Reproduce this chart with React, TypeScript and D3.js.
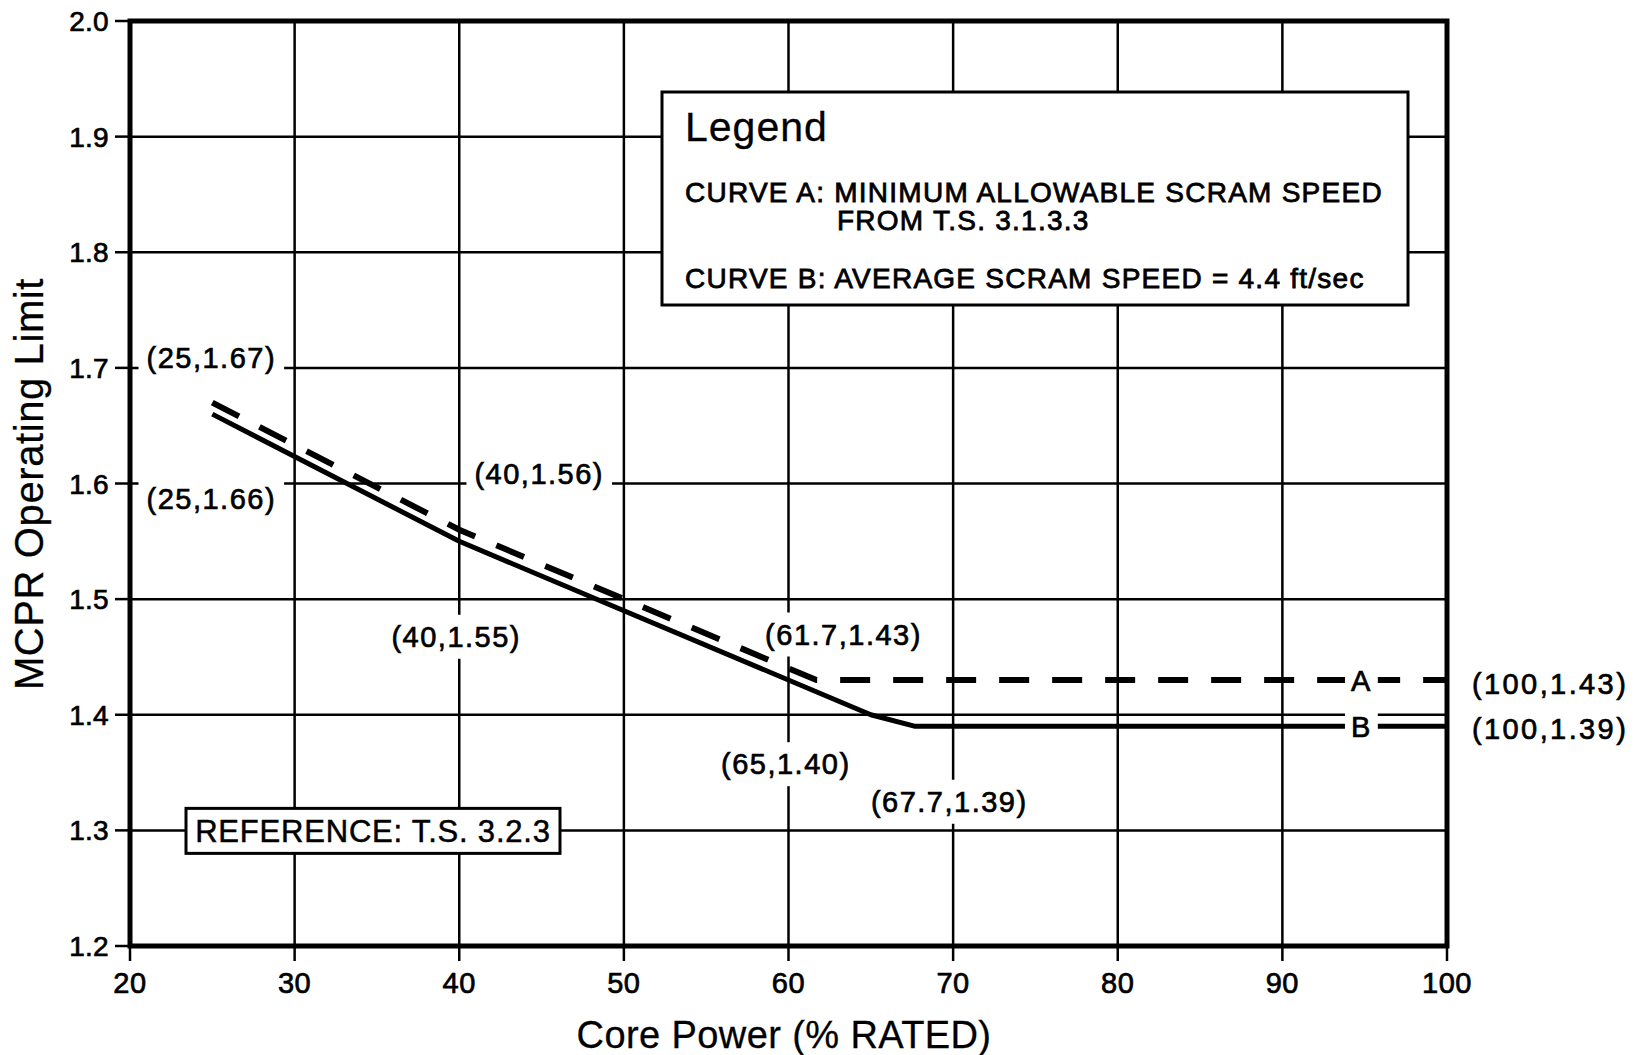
import { useEffect, useRef } from "react";
import * as d3 from "d3";

const W = 1635;
const H = 1055;
const FONT = "'Liberation Sans', Arial, Helvetica, sans-serif";

// axis ticks
const X_TICKS = [20, 30, 40, 50, 60, 70, 80, 90, 100];
const Y_TICKS = [1.2, 1.3, 1.4, 1.5, 1.6, 1.7, 1.8, 1.9, 2.0];

// curve A: minimum allowable scram speed (dashed)
const CURVE_A_X = [25, 40, 61.7, 100];
const CURVE_A_Y = [1.67, 1.56, 1.43, 1.43];
// curve B: average scram speed (solid)
const CURVE_B_X = [25, 40, 65, 67.7, 100];
const CURVE_B_Y = [1.66, 1.55, 1.40, 1.39, 1.39];

const POINT_LABELS = ["(25,1.67)", "(25,1.66)", "(40,1.56)", "(40,1.55)", "(61.7,1.43)", "(65,1.40)", "(67.7,1.39)", "(100,1.43)", "(100,1.39)"];
const LABEL_X = [25, 25, 40, 40, 61.7, 65, 67.7, 100, 100];
const LABEL_Y = [1.67, 1.66, 1.56, 1.55, 1.43, 1.40, 1.39, 1.43, 1.39];

const LEGEND_LINES = [
  "CURVE A: MINIMUM ALLOWABLE SCRAM SPEED",
  "FROM T.S. 3.1.3.3",
  "CURVE B: AVERAGE SCRAM SPEED = 4.4 ft/sec",
];

// pixel offsets of each point label from its point (layout only)
const LABEL_OFFSETS: [number, number, string][] = [
  [-1, -45, "middle"],
  [-1, 84, "middle"],
  [80, -56, "middle"],
  [-3, 95, "middle"],
  [27, -46, "middle"],
  [-85, 49, "middle"],
  [34, 75, "middle"],
  [25, 3, "start"],
  [25, 2, "start"],
];

export default function App() {
  const svgRef = useRef<SVGSVGElement>(null);

  useEffect(() => {
    if (!svgRef.current) return;
    const svg = d3.select(svgRef.current);
    svg.selectAll("*").remove();

    const margin = { top: 21, right: 188, bottom: 109, left: 130 };
    const x = d3.scaleLinear().domain([20, 100]).range([margin.left, W - margin.right]);
    const y = d3.scaleLinear().domain([1.2, 2.0]).range([H - margin.bottom, margin.top]);
    const x0 = x(20), x1 = x(100), y0 = y(1.2), y1 = y(2.0);

    svg.append("rect").attr("width", W).attr("height", H).attr("fill", "#fff");

    // grid
    const grid = svg.append("g").attr("stroke", "#000").attr("stroke-width", 2.5);
    X_TICKS.slice(1, -1).forEach(t => {
      grid.append("line").attr("x1", x(t)).attr("x2", x(t)).attr("y1", y1).attr("y2", y0);
    });
    Y_TICKS.slice(1, -1).forEach(t => {
      grid.append("line").attr("x1", x0).attr("x2", x1).attr("y1", y(t)).attr("y2", y(t));
    });

    // outside ticks
    Y_TICKS.forEach(t => {
      grid.append("line").attr("x1", x0 - 15).attr("x2", x0).attr("y1", y(t)).attr("y2", y(t));
    });
    X_TICKS.forEach(t => {
      grid.append("line").attr("x1", x(t)).attr("x2", x(t)).attr("y1", y0).attr("y2", y0 + 15);
    });

    // heavy = faux-bold stroke to mimic the scanned print weight
    const txt = (g: d3.Selection<any, unknown, null, undefined>, s: string, size: number, ls = 1.5, heavy = 0.7) =>
      g.append("text")
        .attr("font-family", FONT)
        .attr("font-size", size)
        .attr("letter-spacing", ls)
        .attr("fill", "#000")
        .attr("stroke", heavy > 0 ? "#000" : "none")
        .attr("stroke-width", heavy)
        .text(s);

    // tick labels
    Y_TICKS.forEach(t => {
      txt(svg as any, t.toFixed(1), 28, 0.3)
        .attr("x", x0 - 21).attr("y", y(t)).attr("dy", "0.36em").attr("text-anchor", "end");
    });
    X_TICKS.forEach(t => {
      txt(svg as any, String(t), 29, 0.5)
        .attr("x", x(t)).attr("y", y0 + 47).attr("text-anchor", "middle");
    });

    // axis titles
    txt(svg as any, "Core Power (% RATED)", 38, 0.4, 0.3)
      .attr("x", 784).attr("y", 1048).attr("text-anchor", "middle");
    txt(svg as any, "MCPR Operating Limit", 40, 0.6, 0.3)
      .attr("text-anchor", "middle")
      .attr("transform", `translate(43,${484}) rotate(-90)`);

    // label with white knockout behind
    const knockLabel = (s: string, px: number, py: number, anchor: string, size: number, pad: number, padY: number, ls = 1.5) => {
      const g = svg.append("g");
      const bg = g.append("rect").attr("fill", "#fff");
      const t = txt(g as any, s, size, ls)
        .attr("x", px).attr("y", py).attr("dy", "0.36em").attr("text-anchor", anchor);
      const bb = (t.node() as SVGTextElement).getBBox();
      bg.attr("x", bb.x - pad).attr("y", bb.y - padY).attr("width", bb.width + pad * 2).attr("height", bb.height + padY * 2);
    };

    POINT_LABELS.forEach((s, i) => {
      const [dx, dy, anchor] = LABEL_OFFSETS[i];
      knockLabel(s, x(LABEL_X[i]) + dx, y(LABEL_Y[i]) + dy, anchor, 29, 8, 6, anchor === "start" ? 2.4 : 1.5);
    });

    // curves
    const line = d3.line<number>().x(d => x(d)).curve(d3.curveLinear);
    svg.append("path")
      .attr("d", line.y((_, i) => y(CURVE_A_Y[i]))(CURVE_A_X) ?? "")
      .attr("fill", "none").attr("stroke", "#000").attr("stroke-width", 6)
      .attr("stroke-dasharray", "30,23");
    svg.append("path")
      .attr("d", line.y((_, i) => y(CURVE_B_Y[i]))(CURVE_B_X) ?? "")
      .attr("fill", "none").attr("stroke", "#000").attr("stroke-width", 5)
      .attr("stroke-linejoin", "round");

    // curve letters
    knockLabel("A", x(94.8), y(CURVE_A_Y[3]), "middle", 29, 6, -2);
    knockLabel("B", x(94.8), y(CURVE_B_Y[4]), "middle", 29, 6, -2);

    // frame
    svg.append("rect")
      .attr("x", x0).attr("y", y1).attr("width", x1 - x0).attr("height", y0 - y1)
      .attr("fill", "none").attr("stroke", "#000").attr("stroke-width", 5);

    // legend box
    const lg = svg.append("g");
    lg.append("rect").attr("x", 662).attr("y", 92).attr("width", 746).attr("height", 213)
      .attr("fill", "#fff").attr("stroke", "#000").attr("stroke-width", 3);
    txt(lg as any, "Legend", 41, 1, 0.3).attr("x", 685).attr("y", 141);
    txt(lg as any, LEGEND_LINES[0], 28, 1.25, 0.8).attr("x", 685).attr("y", 202);
    txt(lg as any, LEGEND_LINES[1], 28, 1.25, 0.8).attr("x", 837).attr("y", 230);
    txt(lg as any, LEGEND_LINES[2], 28, 1.25, 0.8).attr("x", 685).attr("y", 288);

    // reference box
    const rg = svg.append("g");
    rg.append("rect").attr("x", 186).attr("y", y(1.3) - 22).attr("width", 374).attr("height", 45)
      .attr("fill", "#fff").attr("stroke", "#000").attr("stroke-width", 3);
    txt(rg as any, "REFERENCE: T.S. 3.2.3", 31, 0.8, 0.5)
      .attr("x", 373).attr("y", y(1.3)).attr("dy", "0.36em").attr("text-anchor", "middle");
  }, []);

  return (
    <svg
      ref={svgRef}
      width={W}
      height={H}
      style={{ position: "absolute", left: 0, top: 0, display: "block" }}
    />
  );
}
